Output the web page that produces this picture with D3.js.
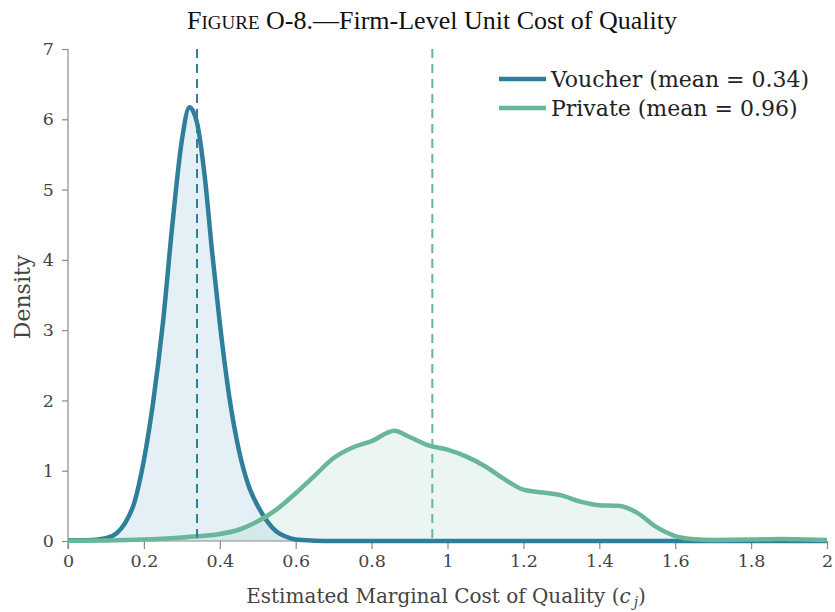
<!DOCTYPE html>
<html><head><meta charset="utf-8">
<script src="https://cdn.jsdelivr.net/npm/d3@7"></script>
<style>body{margin:0;background:#fff}</style>
</head><body>
<svg id="chart" width="835" height="612"></svg>
<script>
// ---- data ----
const voucherX = [0,0.05,0.1,0.13,0.15,0.175,0.2,0.225,0.25,0.275,0.3,0.32,0.34,0.36,0.38,0.4,0.425,0.45,0.475,0.5,0.525,0.55,0.575,0.6,0.65,0.7,0.8,1.0,1.2,1.4,1.6,1.8,2.0];
const voucherY = [0.01,0.01,0.04,0.12,0.25,0.55,1.15,2.0,3.1,4.5,5.7,6.17,5.95,5.2,4.1,3.1,2.05,1.3,0.8,0.5,0.28,0.13,0.06,0.02,0.005,0,0,0,0,0,0,0,0];
const privateX = [0,0.1,0.2,0.3,0.35,0.4,0.45,0.5,0.55,0.6,0.65,0.7,0.75,0.8,0.86,0.9,0.95,1.0,1.05,1.1,1.15,1.2,1.25,1.3,1.35,1.4,1.45,1.5,1.55,1.6,1.65,1.7,1.8,1.88,1.95,2.0];
const privateY = [0.005,0.008,0.02,0.05,0.07,0.1,0.16,0.28,0.45,0.68,0.93,1.18,1.33,1.42,1.57,1.48,1.36,1.3,1.2,1.06,0.88,0.73,0.69,0.65,0.56,0.51,0.5,0.4,0.2,0.07,0.025,0.015,0.02,0.03,0.02,0.015];
const seriesNames = ["Voucher (mean = 0.34)", "Private (mean = 0.96)"];
const seriesMeans = [0.34, 0.96];
const xTicks = [0,0.2,0.4,0.6,0.8,1,1.2,1.4,1.6,1.8,2];
const yTicks = [0,1,2,3,4,5,6,7];

// ---- layout ----
const svg = d3.select("#chart");
const x = d3.scaleLinear().domain([0,2]).range([68,827]);
const y = d3.scaleLinear().domain([0,7]).range([541,49]);
const colors = ["#2f7f9b","#69b798"];
const fills = ["rgba(120,180,210,0.2)","rgba(120,195,165,0.15)"];
const tickFont = "DejaVu Serif";

const series = [
  voucherX.map((v,i)=>({x:v,y:voucherY[i]})),
  privateX.map((v,i)=>({x:v,y:privateY[i]}))
];

const area = d3.area().x(d=>x(d.x)).y0(y(0)).y1(d=>y(d.y)).curve(d3.curveMonotoneX);
const line = d3.line().x(d=>x(d.x)).y(d=>y(d.y)).curve(d3.curveMonotoneX);

series.forEach((s,i)=>{
  svg.append("path").datum(s).attr("d",area).attr("fill",fills[i]);
});

// axes
const xAxis = svg.append("g").attr("transform",`translate(0,${y(0)})`)
  .call(d3.axisBottom(x).tickValues(xTicks).tickFormat(d3.format("~g")).tickSize(8).tickPadding(6));
const yAxis = svg.append("g").attr("transform",`translate(${x(0)},0)`)
  .call(d3.axisLeft(y).tickValues(yTicks).tickFormat(d3.format("d")).tickSize(6).tickPadding(8));
[xAxis,yAxis].forEach(g=>{
  g.selectAll("path,line").attr("stroke","#8a8a8a").attr("stroke-width",1.2);
  g.selectAll("text").attr("font-family",tickFont).attr("font-size",17.5).attr("fill","#444");
});
xAxis.select(".domain").attr("d",`M${x(0)},0H${x(2)}`);
yAxis.select(".domain").attr("d",`M0,${y(7)}V${y(0)+8}`);

// lines
series.forEach((s,i)=>{
  svg.append("path").datum(s).attr("d",line).attr("fill","none")
    .attr("stroke",colors[i]).attr("stroke-width",4.5).attr("stroke-linejoin","round");
});

// mean lines
seriesMeans.forEach((m,i)=>{
  svg.append("line").attr("x1",x(m)).attr("x2",x(m)).attr("y1",y(7)).attr("y2",y(0))
    .attr("stroke",colors[i]).attr("stroke-width",2).attr("stroke-dasharray","9,6");
});

// legend
seriesNames.forEach((n,i)=>{
  const ly = 79 + i*29;
  svg.append("line").attr("x1",499).attr("x2",546).attr("y1",ly).attr("y2",ly)
    .attr("stroke",colors[i]).attr("stroke-width",4.5);
  svg.append("text").attr("x",551).attr("y",ly+8).text(n)
    .attr("font-family",tickFont).attr("font-size",22).attr("fill","#222");
});

// axis titles
svg.append("text").attr("transform","translate(30,297) rotate(-90)").attr("text-anchor","middle")
  .attr("font-family",tickFont).attr("font-size",22).attr("fill","#444").text("Density");
const xl = svg.append("text").attr("x",446).attr("y",603).attr("text-anchor","middle")
  .attr("font-family",tickFont).attr("font-size",20).attr("fill","#444");
xl.append("tspan").text("Estimated Marginal Cost of Quality (");
xl.append("tspan").attr("font-style","italic").text("c");
xl.append("tspan").attr("font-style","italic").attr("font-size",14).attr("dy",4).attr("dx",3).text("j");
xl.append("tspan").attr("dy",-4).text(")");

// title
const t = svg.append("text").attr("x",432).attr("y",29).attr("text-anchor","middle")
  .attr("font-family","Liberation Serif").attr("font-size",26).attr("fill","#111");
t.append("tspan").text("F");
t.append("tspan").attr("font-size",19).text("IGURE");
t.append("tspan").text(" O-8.—Firm-Level Unit Cost of Quality");
</script>
</body></html>
